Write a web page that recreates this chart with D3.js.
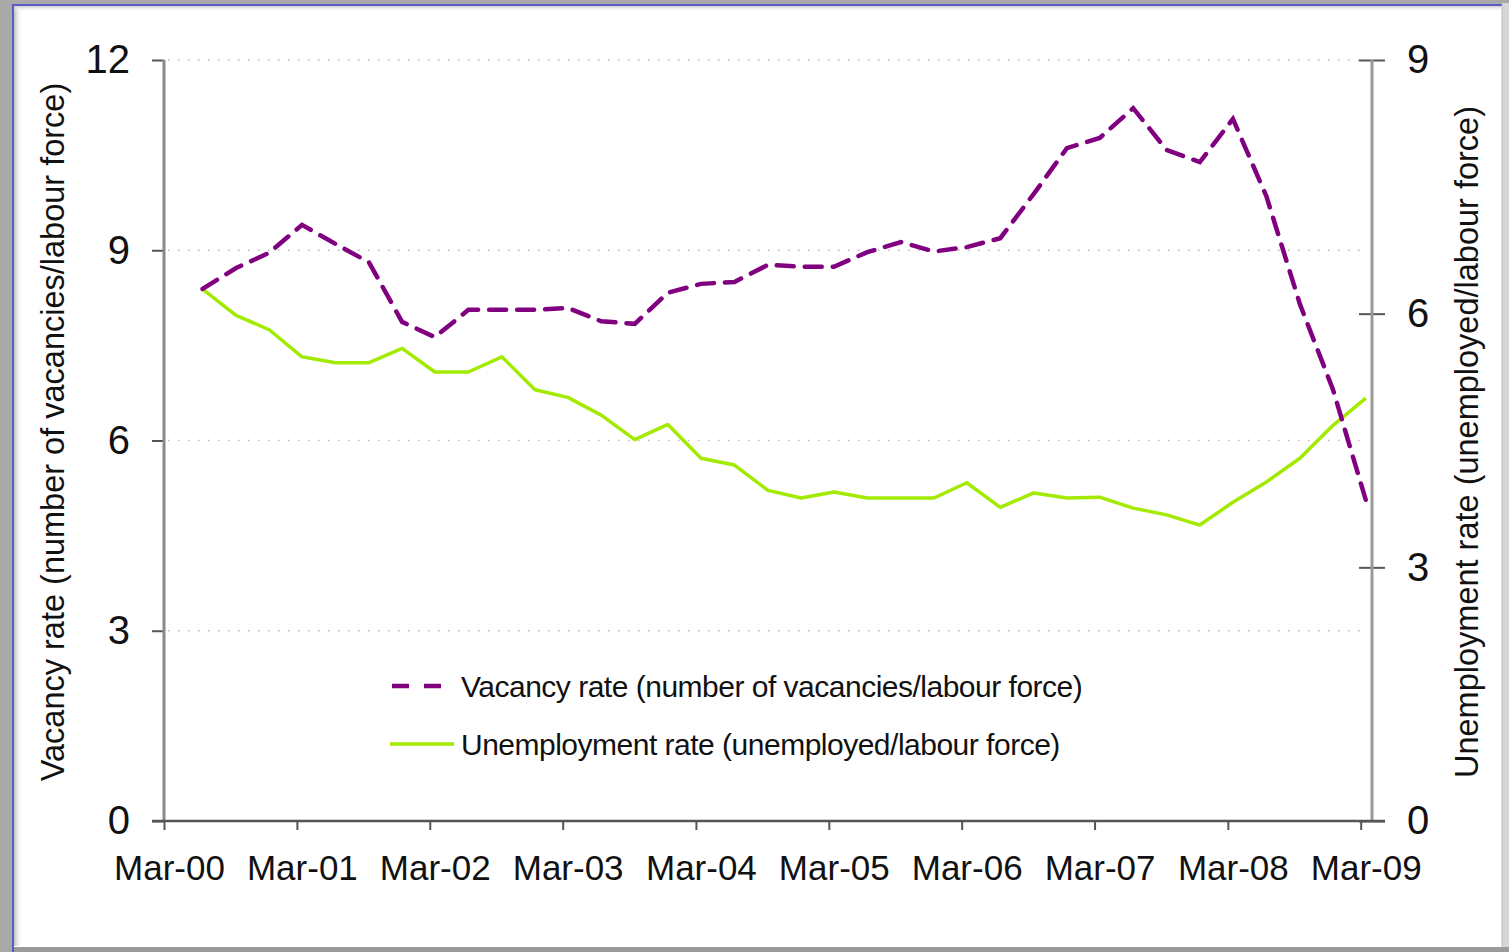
<!DOCTYPE html>
<html>
<head>
<meta charset="utf-8">
<script src="https://cdn.jsdelivr.net/npm/d3@7"></script>
<style>
  html, body { margin: 0; padding: 0; background: #a9a9a9; }
  svg { display: block; font-family: "Liberation Sans", Arial, sans-serif; }
</style>
</head>
<body>
<svg id="chart" width="1509" height="952"></svg>
<script>
// quarterly observations, Jun-00 .. Mar-09
const quarters = [
  "2000-06", "2000-09", "2000-12",
  "2001-03", "2001-06", "2001-09", "2001-12",
  "2002-03", "2002-06", "2002-09", "2002-12",
  "2003-03", "2003-06", "2003-09", "2003-12",
  "2004-03", "2004-06", "2004-09", "2004-12",
  "2005-03", "2005-06", "2005-09", "2005-12",
  "2006-03", "2006-06", "2006-09", "2006-12",
  "2007-03", "2007-06", "2007-09", "2007-12",
  "2008-03", "2008-06", "2008-09", "2008-12",
  "2009-03"
];

// vacancy rate, left axis
const vacancy = [
  8.39, 8.72, 8.96,
  9.40, 9.10, 8.81, 7.87,
  7.63, 8.06, 8.06, 8.06,
  8.09, 7.88, 7.84, 8.33,
  8.47, 8.50, 8.77, 8.74,
  8.74, 8.97, 9.13, 8.98,
  9.05, 9.19, 9.89, 10.61,
  10.77, 11.24, 10.58, 10.39,
  11.07, 9.85, 8.15, 6.80,
  5.06
];

// unemployment rate, right axis
const unemployment = [
  6.29, 5.98, 5.81,
  5.49, 5.42, 5.42, 5.59,
  5.31, 5.31, 5.49, 5.10,
  5.01, 4.80, 4.51, 4.69,
  4.29, 4.21, 3.91, 3.82,
  3.89, 3.82, 3.82, 3.82,
  4.00, 3.71, 3.88, 3.82,
  3.83, 3.70, 3.62, 3.50,
  3.77, 4.01, 4.29, 4.68,
  5.00
];

const leftTicks = [0, 3, 6, 9, 12];
const rightTicks = [0, 3, 6, 9];
const yearTicks = d3.range(2000, 2010);

const leftTitle = "Vacancy rate (number of vacancies/labour force)";
const rightTitle = "Unemployment rate (unemployed/labour force)";
const legendLabels = [
  "Vacancy rate (number of vacancies/labour force)",
  "Unemployment rate (unemployed/labour force)"
];

const parseMonth = d3.timeParse("%Y-%m");
// points sit in the middle of the quarter's last month
const dates = quarters.map(q => d3.timeDay.offset(parseMonth(q), 14));

const svg = d3.select("#chart");

// --- frame ---
svg.append("rect").attr("width", 1509).attr("height", 952).attr("fill", "#a9a9a9");
svg.append("rect").attr("x", 1502).attr("y", 3).attr("width", 7).attr("height", 949).attr("fill", "#d6d6d6");
svg.append("rect").attr("x", 12).attr("y", 947).attr("width", 1497).attr("height", 5).attr("fill", "#9a9a9a");
svg.append("rect").attr("x", 13).attr("y", 5).attr("width", 1489).attr("height", 942).attr("fill", "#fff");

const defs = svg.append("defs");
const gl = defs.append("linearGradient").attr("id", "shL").attr("x1", 0).attr("x2", 1);
gl.append("stop").attr("offset", 0).attr("stop-color", "#bdbdbd");
gl.append("stop").attr("offset", 1).attr("stop-color", "#fff").attr("stop-opacity", 0);
const gt = defs.append("linearGradient").attr("id", "shT").attr("x1", 0).attr("x2", 0).attr("y1", 0).attr("y2", 1);
gt.append("stop").attr("offset", 0).attr("stop-color", "#cfcfcf");
gt.append("stop").attr("offset", 1).attr("stop-color", "#fff").attr("stop-opacity", 0);
svg.append("rect").attr("x", 14).attr("y", 6).attr("width", 9).attr("height", 940).attr("fill", "url(#shL)");
svg.append("rect").attr("x", 14).attr("y", 6).attr("width", 1487).attr("height", 6).attr("fill", "url(#shT)");
svg.append("line").attr("x1", 13).attr("x2", 13).attr("y1", 4).attr("y2", 952)
  .attr("stroke", "#5b5bc6").attr("stroke-width", 2);
svg.append("line").attr("x1", 12).attr("x2", 1502).attr("y1", 5).attr("y2", 5)
  .attr("stroke", "#5b5bc6").attr("stroke-width", 2);
svg.append("line").attr("x1", 1502).attr("x2", 1502).attr("y1", 5).attr("y2", 948)
  .attr("stroke", "#bcbcbc").attr("stroke-width", 1);

// --- scales ---
const x = d3.scaleTime()
  .domain([new Date(2000, 2, 1), new Date(2009, 3, 1)])
  .range([164, 1372]);
const yL = d3.scaleLinear().domain([0, 12]).range([821, 60]);
const yR = d3.scaleLinear().domain([0, 9]).range([821, 60]);

// gridlines (dotted)
svg.append("g")
  .selectAll("line")
  .data(leftTicks.filter(d => d > 0))
  .join("line")
  .attr("x1", 168).attr("x2", 1368)
  .attr("y1", d => yL(d)).attr("y2", d => yL(d))
  .attr("stroke", "#b8b8b8").attr("stroke-width", 1.5)
  .attr("stroke-dasharray", "1.5,8.5");

// left axis
const gLeft = svg.append("g")
  .attr("transform", "translate(164,0)")
  .call(d3.axisLeft(yL).tickValues(leftTicks).tickSize(12).tickPadding(22));
gLeft.select(".domain").remove();
gLeft.selectAll(".tick line").attr("stroke", "#555").attr("stroke-width", 2);
gLeft.selectAll(".tick text").attr("font-size", 40).attr("fill", "#111")
  .attr("font-family", "Liberation Sans, Arial, sans-serif");
svg.append("line").attr("x1", 164).attr("x2", 164).attr("y1", 60).attr("y2", 821)
  .attr("stroke", "#8a8a8a").attr("stroke-width", 3);

// right axis (ticks cross the line)
const gRight = svg.append("g")
  .attr("transform", "translate(1372,0)")
  .call(d3.axisRight(yR).tickValues(rightTicks).tickSize(13).tickPadding(22));
gRight.select(".domain").remove();
gRight.selectAll(".tick line").attr("x1", -13).attr("stroke", "#555").attr("stroke-width", 2);
gRight.selectAll(".tick text").attr("font-size", 40).attr("fill", "#111")
  .attr("font-family", "Liberation Sans, Arial, sans-serif");
svg.append("line").attr("x1", 1372).attr("x2", 1372).attr("y1", 60).attr("y2", 821)
  .attr("stroke", "#9a9a9a").attr("stroke-width", 3);

// bottom axis
const gBottom = svg.append("g")
  .attr("transform", "translate(0,821)")
  .call(d3.axisBottom(x)
    .tickValues(yearTicks.map(y => new Date(y, 2, 1)))
    .tickFormat(d3.timeFormat("Mar-%y"))
    .tickSize(9).tickPadding(25));
gBottom.select(".domain").remove();
gBottom.selectAll(".tick line").attr("stroke", "#555").attr("stroke-width", 2);
gBottom.selectAll(".tick text").attr("font-size", 35).attr("fill", "#111").attr("dx", 5)
  .attr("font-family", "Liberation Sans, Arial, sans-serif");
svg.append("line").attr("x1", 152).attr("x2", 1385).attr("y1", 821).attr("y2", 821)
  .attr("stroke", "#555").attr("stroke-width", 2.5);

// axis titles
svg.append("text")
  .attr("transform", "translate(64,432) rotate(-90)")
  .attr("text-anchor", "middle")
  .attr("font-size", 32.5).attr("fill", "#111")
  .text(leftTitle);
svg.append("text")
  .attr("transform", "translate(1478,442) rotate(-90)")
  .attr("text-anchor", "middle")
  .attr("font-size", 32.5).attr("fill", "#111")
  .text(rightTitle);

// --- lines ---
const vacLine = d3.line().x((d, i) => x(dates[i])).y(d => yL(d));
const unLine = d3.line().x((d, i) => x(dates[i])).y(d => yR(d));

svg.append("path")
  .datum(unemployment)
  .attr("d", unLine)
  .attr("fill", "none")
  .attr("stroke", "#a2ea00")
  .attr("stroke-width", 3.5)
  .attr("stroke-linejoin", "round");

svg.append("path")
  .datum(vacancy)
  .attr("d", vacLine)
  .attr("fill", "none")
  .attr("stroke", "#800080")
  .attr("stroke-width", 4.5)
  .attr("stroke-dasharray", "17,11")
  .attr("stroke-linecap", "round");

// --- legend ---
const legend = svg.append("g");
legend.append("line")
  .attr("x1", 392).attr("x2", 446).attr("y1", 686).attr("y2", 686)
  .attr("stroke", "#800080").attr("stroke-width", 4.5)
  .attr("stroke-dasharray", "17,15");
legend.append("line")
  .attr("x1", 390).attr("x2", 454).attr("y1", 744).attr("y2", 744)
  .attr("stroke", "#a2ea00").attr("stroke-width", 3.5);
legend.selectAll("text")
  .data(legendLabels)
  .join("text")
  .attr("x", 461)
  .attr("y", (d, i) => 686 + i * 58)
  .attr("dy", "0.35em")
  .attr("font-size", 30)
  .attr("letter-spacing", -0.5)
  .attr("fill", "#111")
  .text(d => d);
</script>
</body>
</html>
